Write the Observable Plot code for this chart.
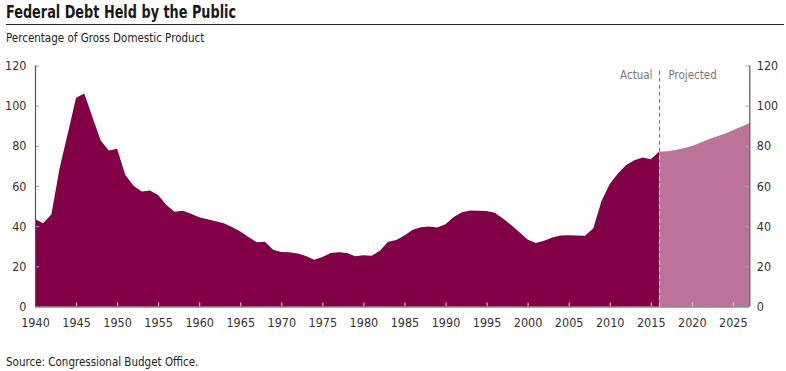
<!DOCTYPE html>
<html>
<head>
<meta charset="utf-8">
<script src="https://cdn.jsdelivr.net/npm/d3@7"></script>
<script src="https://cdn.jsdelivr.net/npm/@observablehq/plot@0.6"></script>
<style>
  html, body { margin: 0; padding: 0; background: #fff; }
  #wrap { position: relative; width: 786px; height: 371px; overflow: hidden;
    font-family: "DejaVu Sans Condensed", "Liberation Sans Narrow", sans-serif; color: #222; }
  #title { position: absolute; left: 6px; top: 2px; font-size: 17px; font-weight: bold; color: #1a1a1a; white-space: nowrap; transform: scaleX(0.84); transform-origin: left top; }
  #rule { position: absolute; left: 6px; top: 23.5px; width: 778px; height: 0; border-top: 1.3px solid #222; }
  #subtitle { position: absolute; left: 6px; top: 29.5px; font-size: 12.5px; color: #222; white-space: nowrap; transform: scaleX(0.92); transform-origin: left top; }
  #chart { position: absolute; left: 0; top: 48px; }
  #source { position: absolute; left: 6px; top: 354px; font-size: 12.5px; color: #222; white-space: nowrap; transform: scaleX(0.92); transform-origin: left top; }
</style>
</head>
<body>
<div id="wrap">
  <div id="title">Federal Debt Held by the Public</div>
  <div id="rule"></div>
  <div id="subtitle">Percentage of Gross Domestic Product</div>
  <div id="chart"></div>
  <div id="source">Source: Congressional Budget Office.</div>
</div>
<script>
// Actual values, 1940 through 2016 (percent of GDP)
const actualStart = 1940;
const actualValues = [
  43.6, 41.5, 45.9, 69.0, 86.3, 104.0, 106.1, 94.2, 82.6, 77.7,   // 1940-1949
  78.6, 65.5, 60.1, 57.2, 57.8, 55.5, 50.6, 47.2, 47.7, 46.2,     // 1950-1959
  44.4, 43.5, 42.4, 41.4, 39.6, 37.3, 34.6, 32.0, 32.2, 28.2,     // 1960-1969
  27.1, 27.0, 26.4, 25.2, 23.3, 24.6, 26.6, 27.0, 26.6, 25.0,     // 1970-1979
  25.5, 25.3, 27.7, 32.2, 33.1, 35.3, 38.2, 39.4, 39.8, 39.3,     // 1980-1989
  40.9, 44.6, 46.9, 47.8, 47.7, 47.5, 46.7, 43.8, 40.6, 37.0,     // 1990-1999
  33.3, 31.6, 32.8, 34.4, 35.4, 35.5, 35.3, 35.2, 39.0, 52.5,     // 2000-2009
  61.0, 66.2, 70.5, 72.8, 74.2, 73.3, 77.0                        // 2010-2016
];
// Projected values, 2016 through 2027
const projectedStart = 2016;
const projectedValues = [77.0, 77.3, 77.9, 78.8, 79.9, 81.5, 83.2, 84.6, 86.0, 87.7, 89.5, 91.2];

const xTicks = [1940, 1945, 1950, 1955, 1960, 1965, 1970, 1975, 1980, 1985, 1990, 1995, 2000, 2005, 2010, 2015, 2020, 2025];
const yTicks = [0, 20, 40, 60, 80, 100, 120];
const divider = 2016;
const periodLabels = ["Actual", "Projected"];

const actual = actualValues.map((v, i) => ({year: actualStart + i, value: v}));
const projected = projectedValues.map((v, i) => ({year: projectedStart + i, value: v}));
const lastActual = actualValues[actualValues.length - 1];

const darkColor = "#820046";
const lightColor = "#bc7399";
const xMin = 1940, xMax = 2027;

const chart = Plot.plot({
  width: 786,
  height: 290,
  marginLeft: 35,
  marginRight: 36.7,
  marginTop: 17.5,
  marginBottom: 31.5,
  x: {domain: [xMin, xMax]},
  y: {domain: [0, 120]},
  style: {fontFamily: '"DejaVu Sans Condensed", "Liberation Sans Narrow", sans-serif', fontSize: "12.5px", color: "#333", background: "#fff"},
  marks: [
    Plot.areaY(projected, {x: "year", y: "value", fill: lightColor}),
    Plot.areaY(actual, {x: "year", y: "value", fill: darkColor}),
    // inward ticks
    Plot.ruleX(xTicks.filter(d => d > xMin), {x: d => d, y1: 0, y2: 2, stroke: "#d8d8d8", strokeWidth: 1}),
    Plot.ruleY(yTicks.filter(d => d > 0), {y: d => d, x1: xMin, x2: xMin + 0.5, stroke: "#aaa", strokeWidth: 1}),
    Plot.ruleY(yTicks.filter(d => d > 0), {y: d => d, x1: xMax - 0.5, x2: xMax, stroke: "#aaa", strokeWidth: 1}),
    // divider
    Plot.ruleX([divider], {y1: 0, y2: lastActual, stroke: "#f2f2f2", strokeDasharray: "4,3", strokeWidth: 1}),
    Plot.ruleX([divider], {y1: lastActual, y2: 118.8, stroke: "#777", strokeDasharray: "4,3", strokeWidth: 1}),
    Plot.text([periodLabels[0]], {x: divider, y: 115.2, text: d => d, textAnchor: "end", dx: -7, fill: "#777", fontSize: 11.5}),
    Plot.text([periodLabels[1]], {x: divider, y: 115.2, text: d => d, textAnchor: "start", dx: 9, fill: "#777", fontSize: 11.5}),
    // frame
    Plot.ruleX([xMin, xMax], {stroke: "#555", strokeWidth: 1.2}),
    Plot.ruleY([0], {stroke: "#555", strokeWidth: 1.2}),
    // axes labels
    Plot.axisY({anchor: "left", ticks: yTicks, tickSize: 0, tickPadding: 9, label: null, fill: "#333"}),
    Plot.axisY({anchor: "right", ticks: yTicks, tickSize: 0, tickPadding: 7, label: null, fill: "#333"}),
    Plot.axisX({anchor: "bottom", ticks: xTicks, tickSize: 0, tickPadding: 11, tickFormat: d => String(d), label: null, fill: "#333"})
  ]
});
document.getElementById("chart").appendChild(chart);
</script>
</body>
</html>
